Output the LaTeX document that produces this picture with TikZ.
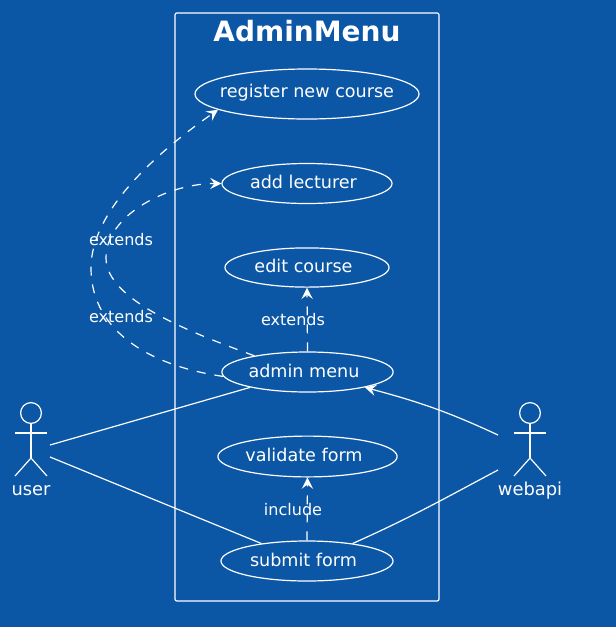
\documentclass[tikz,border=0pt]{standalone}
\usepackage{fontspec}
\setmainfont{DejaVu Sans}
\usetikzlibrary{shapes.geometric,arrows.meta}
\definecolor{bgblue}{HTML}{0B57A5}
\newcommand{\casetext}[2]{\makebox[0pt]{#1\hspace*{#2}}}
\tikzset{
  usecase/.style={draw, ellipse, inner sep=0pt, text height=8pt, text depth=0.8pt, font=\fontsize{12.5}{15}\selectfont},
  actorname/.style={text height=8pt, text depth=0.8pt, font=\fontsize{12.7}{15}\selectfont},
  edgelabel/.style={font=\fontsize{11.4}{14}\selectfont},
  link/.style={line width=0.85pt},
  dep/.style={line width=0.85pt, dash pattern=on 6.4pt off 6.4pt, -{Stealth[length=8pt,width=8pt,inset=3pt]}},
  assoc/.style={line width=0.85pt, -{Stealth[length=8pt,width=8pt,inset=3pt]}}
}
\begin{document}
\begin{tikzpicture}[x=0.025cm, y=-0.025cm, color=white, text=white, line width=0.85pt]
  \fill [bgblue] (0,0) rectangle (616,627);
  \useasboundingbox (0,0) rectangle (616,627);
  % package
  \node [draw, rounded corners=1.5pt, minimum width=6.6cm, minimum height=14.7cm] (frame) at (307,307) {};
  \node [font=\fontsize{19.9}{24}\bfseries] (title) at (307,31) {AdminMenu};
  % use cases
  \node [usecase, text height=6pt, minimum width=5.6cm, minimum height=1.25cm] (register) at (307,94) {\casetext{register new course}{0pt}};
  \node [usecase, minimum width=4.25cm, minimum height=1.0cm] (lecturer) at (307,183.5) {\casetext{add lecturer}{5pt}};
  \node [usecase, minimum width=4.1cm, minimum height=0.98cm] (edit) at (307,267.5) {\casetext{edit course}{5pt}};
  \node [usecase, minimum width=4.28cm, minimum height=1.0cm] (admin) at (307.5,372) {\casetext{admin menu}{5pt}};
  \node [usecase, minimum width=4.48cm, minimum height=1.02cm] (validate) at (307.5,456.5) {\casetext{validate form}{5pt}};
  \node [usecase, minimum width=4.3cm, minimum height=1.0cm] (submit) at (307,561) {\casetext{submit form}{5pt}};
  % actors
  \node [draw, circle, inner sep=0pt, minimum size=0.52cm] (userhead) at (31,413) {};
  \draw (userhead.south) -- ++(0,34) coordinate (userhip);
  \draw (15,433) -- (47,433);
  \draw (15,476) -- (userhip) -- (47,476);
  \node [actorname] (user) at (31,490) {user};
  \node [draw, circle, inner sep=0pt, minimum size=0.52cm] (apihead) at (530,413) {};
  \draw (apihead.south) -- ++(0,34) coordinate (apihip);
  \draw (514,433) -- (546,433);
  \draw (514,476) -- (apihip) -- (546,476);
  \node [actorname] (webapi) at (530,490) {webapi};
  \coordinate (userup) at (50,445);
  \coordinate (userdown) at (50,457);
  \coordinate (apiup) at (498,435);
  \coordinate (apidown) at (498,470);
  % associations
  \draw [link] (userup) -- (admin.195);
  \draw [link] (userdown) -- (submit.159);
  \draw [assoc] (apiup) to [out=155,in=345] (admin.345);
  \draw [link] (apidown) to [out=208,in=24] (submit.21);
  % dependencies
  \coordinate (bendone) at (91,268);
  \coordinate (bendtwo) at (106,258);
  \draw [dep] (admin.183) to [out=172,in=270] (bendone) to [out=90,in=215,out looseness=0.7] (register.190);
  \draw [dep] (admin.163) to [out=160,in=270,in looseness=0.6] (bendtwo) to [out=90,in=180,out looseness=0.8] (lecturer.west);
  \draw [dep] (admin.north) -- (edit.south);
  \draw [dep] (submit.north) -- (validate.south);
  \node [edgelabel] (extone) at (121,239.5) {extends};
  \node [edgelabel] (exttwo) at (121,316.5) {extends};
  \node [edgelabel] (extthree) at (293,319.5) {extends};
  \node [edgelabel] (incl) at (293,510) {include};
\end{tikzpicture}
\end{document}
